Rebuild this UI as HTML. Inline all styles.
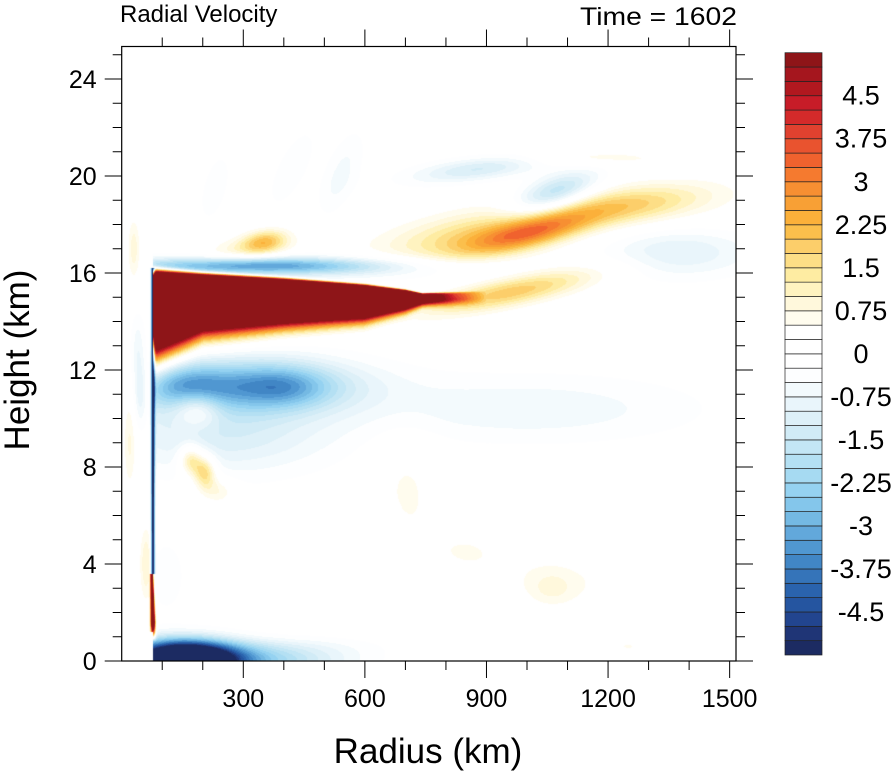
<!DOCTYPE html>
<html><head><meta charset="utf-8">
<style>
html,body{margin:0;padding:0;background:#fff;width:895px;height:774px;overflow:hidden}
#wrap{position:relative;width:895px;height:774px;font-family:"Liberation Sans",sans-serif}
canvas{position:absolute;left:0;top:0}
svg{position:absolute;left:0;top:0}
</style></head>
<body>
<div id="wrap">
<canvas id="field" width="895" height="774"></canvas>
<svg id="ov" width="895" height="774"></svg>
</div>
<script>
// ---- data ----
const levelMin = -5, levelStep = 0.25, nBoxes = 42;
const boxColors = ["#1c2b62","#1f3576","#22458f","#2555a0","#2a63ad","#3574b9","#4186c5","#5097d1","#62a8db","#74b9e3","#84c6eb","#95d2f1","#a6daf2","#b4e0f3","#c3e6f5","#d1ebf6","#ddf0f8","#e9f5fb","#f3fafd","#fdfeff","#ffffff",
"#ffffff","#ffffff","#fffcee","#fff8dc","#fff3c0","#feeca2","#fdde86","#fcce6a","#fbbf4c","#fbb03a","#f8a035","#f78f32","#f57a2f","#f0622e","#e9532f","#e0412f","#d42a2a","#c71c28","#b1181f","#a5161e","#8e1518"];
const cbLabels = ["4.5","3.75","3","2.25","1.5","0.75","0","-0.75","-1.5","-2.25","-3","-3.75","-4.5"];
const cbLabelValues = [4.5,3.75,3,2.25,1.5,0.75,0,-0.75,-1.5,-2.25,-3,-3.75,-4.5];
const xTicks = [300,600,900,1200,1500];
const yTicks = [0,4,8,12,16,20,24];
// outflow jet
const jetR   = [78, 200, 400, 600, 700, 760, 820, 900];
const jetTop = [16.1,15.95,15.75,15.5,15.3,15.1,15.0,15.0];
const jetBot = [12.7,13.6,13.9,14.1,14.45,14.75,14.9,15.0];
const jetAmp = [14, 14, 13.5, 12.5, 10, 6, 3, 0];
// blobs: radius km, height km, amplitude m/s, sigma r, sigma z, slope dz/dr
const blobR   = [300, 600, 292, 160, 400, 250, 186, 1000, 1007, 860, 1253, 1050, 1068, 883, 1155, 1363, 957, 353, 292, 169, 205, 240, 150, 330, 850, 1150, 700, 540, 420, 230, 30, 40, 20, 45, 60, 110, 1250, 300, 1060];
const blobZ   = [16.3,16.15,11.4,11.3,11.3, 9.4,10.4, 10.4, 17.65,17.5,18.8, 18.0, 19.3, 20.3, 20.75, 16.9, 15.2, 17.3, 16.9, 8.3, 7.8, 7.0, 0.0, 0.0, 4.5, 3.2, 7.5, 20.0, 20.3, 19.5, 17, 13, 9, 11, 4, 3.5, 0.6, 0.6, 3.0];
const blobA   = [-3.2,-0.8,-2.5,-1.2,-1.2,-1.2, 1.4, -0.7, 2.2, 1.2, 1.4, 0.5, -2.0, -1.3, 0.7, -1.1, 1.9, 1.7, 0.8, 1.7, 1.9, 0.8, -9.0, -2.0, 0.5, 0.4, 0.5, -0.6, -0.5, -0.4, 0.9, -0.6, 0.8, -0.9, 1.0, -0.5, 0.5, -0.7, 0.5];
const blobSR  = [220, 200, 200, 70, 80, 190, 40, 300, 110, 150, 140, 400, 75, 120, 150, 140, 160, 40, 80, 20, 20, 30, 90, 150, 150, 120, 60, 40, 40, 30, 12, 12, 12, 12, 12, 30, 50, 200, 40];
const blobSZ  = [0.25,0.4, 0.8, 0.6, 0.6, 1.2, 0.5, 1.0, 0.45, 0.7, 0.55, 1.0, 0.5, 0.35, 0.25, 0.75, 0.45, 0.35, 0.4, 0.45, 0.5, 0.4, 0.55, 0.4, 1.5, 1.0, 1.5, 1.0, 0.8, 1.0, 1.0, 1.0, 1.5, 1.0, 1.2, 1.0, 0.3, 0.3, 0.5];
const blobS   = [0, 0, 0, 0, 0, 0, 0, 0, 0.004, 0.003, 0.002, 0.002, 0.005, 0.002, 0, 0, 0.0033, 0.002, 0.002, 0, 0, 0, 0, 0, 0, 0, 0, 0.02, 0.02, 0.02, 0, 0, 0, 0, 0, 0, 0, 0, 0];

// ---- axes ----
const PL = 121.7, PR = 736, PT = 46.5, PB = 661;
const xScale = r => PL + r * 0.4053;
const yScale = z => PB - z * 24.25;
const rOf = px => (px - PL) / 0.4053;
const zOf = py => (PB - py) / 24.25;

function interp(xs, ys, x){
  if (x <= xs[0]) return ys[0];
  for (let i=1;i<xs.length;i++) if (x <= xs[i]) { const t=(x-xs[i-1])/(xs[i]-xs[i-1]); return ys[i-1]+t*(ys[i]-ys[i-1]); }
  return ys[ys.length-1];
}
function field(r, z){
  let v = 0;
  const inner = r < 76 ? 0 : 1;
  if (r >= 78 && r <= jetR[jetR.length-1]) {
    const top = interp(jetR, jetTop, r), bot = interp(jetR, jetBot, r), a = interp(jetR, jetAmp, r);
    const c = (top+bot)/2, h = Math.max((top-bot)/2, 0.25);
    const d = (z - c)/h;
    v += d > 0 ? a*Math.exp(-Math.pow(d,10)) : a*Math.exp(-Math.pow(-d,2.2));
  }
  for (let i=0;i<blobR.length;i++){
    if (blobR[i] > 70 && !inner) continue;
    const dr = (r - blobR[i]) / blobSR[i];
    const dz = (z - blobZ[i] - blobS[i]*(r-blobR[i])) / blobSZ[i];
    const e = dr*dr + dz*dz;
    if (e < 12) v += blobA[i]*Math.exp(-0.5*e);
  }
  const dw = (r - 77)/4.5;
  if (z > 3.6 && z < 16.2) v += -5.5*Math.exp(-dw*dw);
  if (z > 0.8 && z <= 3.6) { const w=(r-(74+ (3.6-z)*1.5))/(3+ (3.6-z)*1.2); v += 9*Math.exp(-w*w)*Math.min(1,(z-0.8)/0.8); }
  if (r < 76 && z < 1.2) v = 0;
  return v;
}
const cv = document.getElementById('field');
const ctx = cv.getContext('2d');
const x0 = Math.ceil(PL)+1, x1 = Math.floor(PR), y0 = Math.ceil(PT)+1, y1 = Math.floor(PB);
const img = ctx.createImageData(x1-x0, y1-y0);
const rgb = boxColors.map(c=>[parseInt(c.substr(1,2),16),parseInt(c.substr(3,2),16),parseInt(c.substr(5,2),16)]);
for (let py=y0; py<y1; py++){
  const z = zOf(py+0.5);
  for (let px=x0; px<x1; px++){
    const v = field(rOf(px+0.5), z);
    let idx = Math.floor((v - levelMin)/levelStep) + 1;
    idx = Math.max(0, Math.min(nBoxes-1, idx));
    const c = rgb[idx], o = ((py-y0)*(x1-x0)+(px-x0))*4;
    img.data[o]=c[0]; img.data[o+1]=c[1]; img.data[o+2]=c[2]; img.data[o+3]=255;
  }
}
ctx.putImageData(img, x0, y0);

// ---- overlay ----
const NS = "http://www.w3.org/2000/svg";
const svg = document.getElementById('ov');
function mk(tag, attrs, parent){ const e=document.createElementNS(NS,tag); for (const k in attrs) e.setAttribute(k, attrs[k]); (parent||svg).appendChild(e); return e; }
function txt(s, attrs){ const e = mk('text', attrs); e.textContent = s; return e; }

const frame = mk('rect',{x:PL,y:PT,width:PR-PL,height:PB-PT,fill:'none',stroke:'#000','stroke-width':1.2});



const tg = mk('g',{stroke:'#000','stroke-width':1});


for (let r=100; r<=1500; r+=100){
  const x = xScale(r), L = (r%300===0)?17:9;
  mk('line',{x1:x,y1:PB,x2:x,y2:PB+L},tg);
  mk('line',{x1:x,y1:PT,x2:x,y2:PT-L},tg);
}
for (let z=1; z<=25; z++){
  const y = yScale(z), L = (z%4===0)?17:9;
  mk('line',{x1:PL,y1:y,x2:PL-L,y2:y},tg);
  mk('line',{x1:PR,y1:y,x2:PR+L,y2:y},tg);
}
mk('line',{x1:PL,y1:PB,x2:PL-17,y2:PB},tg);
mk('line',{x1:PR,y1:PB,x2:PR+17,y2:PB},tg);

xTicks.forEach(t=>{
  const e = txt(String(t),{x:xScale(t),y:PB+46,'font-size':25,'text-anchor':'middle'});
  
  
});
yTicks.forEach(t=>{
  const e = txt(String(t),{x:PL-25,y:yScale(t)+9,'font-size':25,'text-anchor':'end'});
  
  
});
let e;
e = txt('Radius (km)',{x:428,y:763,'font-size':35,'text-anchor':'middle'});


e = txt('Height (km)',{x:0,y:0,'font-size':35,'text-anchor':'middle',transform:'translate(29,360) rotate(-90)'});


e = txt('Radial Velocity',{x:120,y:22,'font-size':24});


e = txt('Time = 1602',{x:737,y:25,'font-size':25,'text-anchor':'end',textLength:157,lengthAdjust:'spacingAndGlyphs'});



// colorbar
const CBX = 785, CBW = 37, CBT = 52.7, CBB = 655;
const bh = (CBB-CBT)/nBoxes;
const cbScale = v => CBT + (nBoxes-1 - ((v - levelMin)/levelStep + 1)) * bh + bh;
const cb = mk('g',{});


for (let i=0;i<nBoxes;i++){
  const y = CBB - (i+1)*bh;
  const b = mk('rect',{x:CBX,y:y,width:CBW,height:bh,fill:boxColors[i],stroke:'#222','stroke-width':0.7},cb);
  
  
}
cbLabelValues.forEach((v,i)=>{
  const t = txt(cbLabels[i],{x:861,y:cbScale(v)+9,'font-size':27,'text-anchor':'middle'});
  
  
});
</script>
</body></html>
